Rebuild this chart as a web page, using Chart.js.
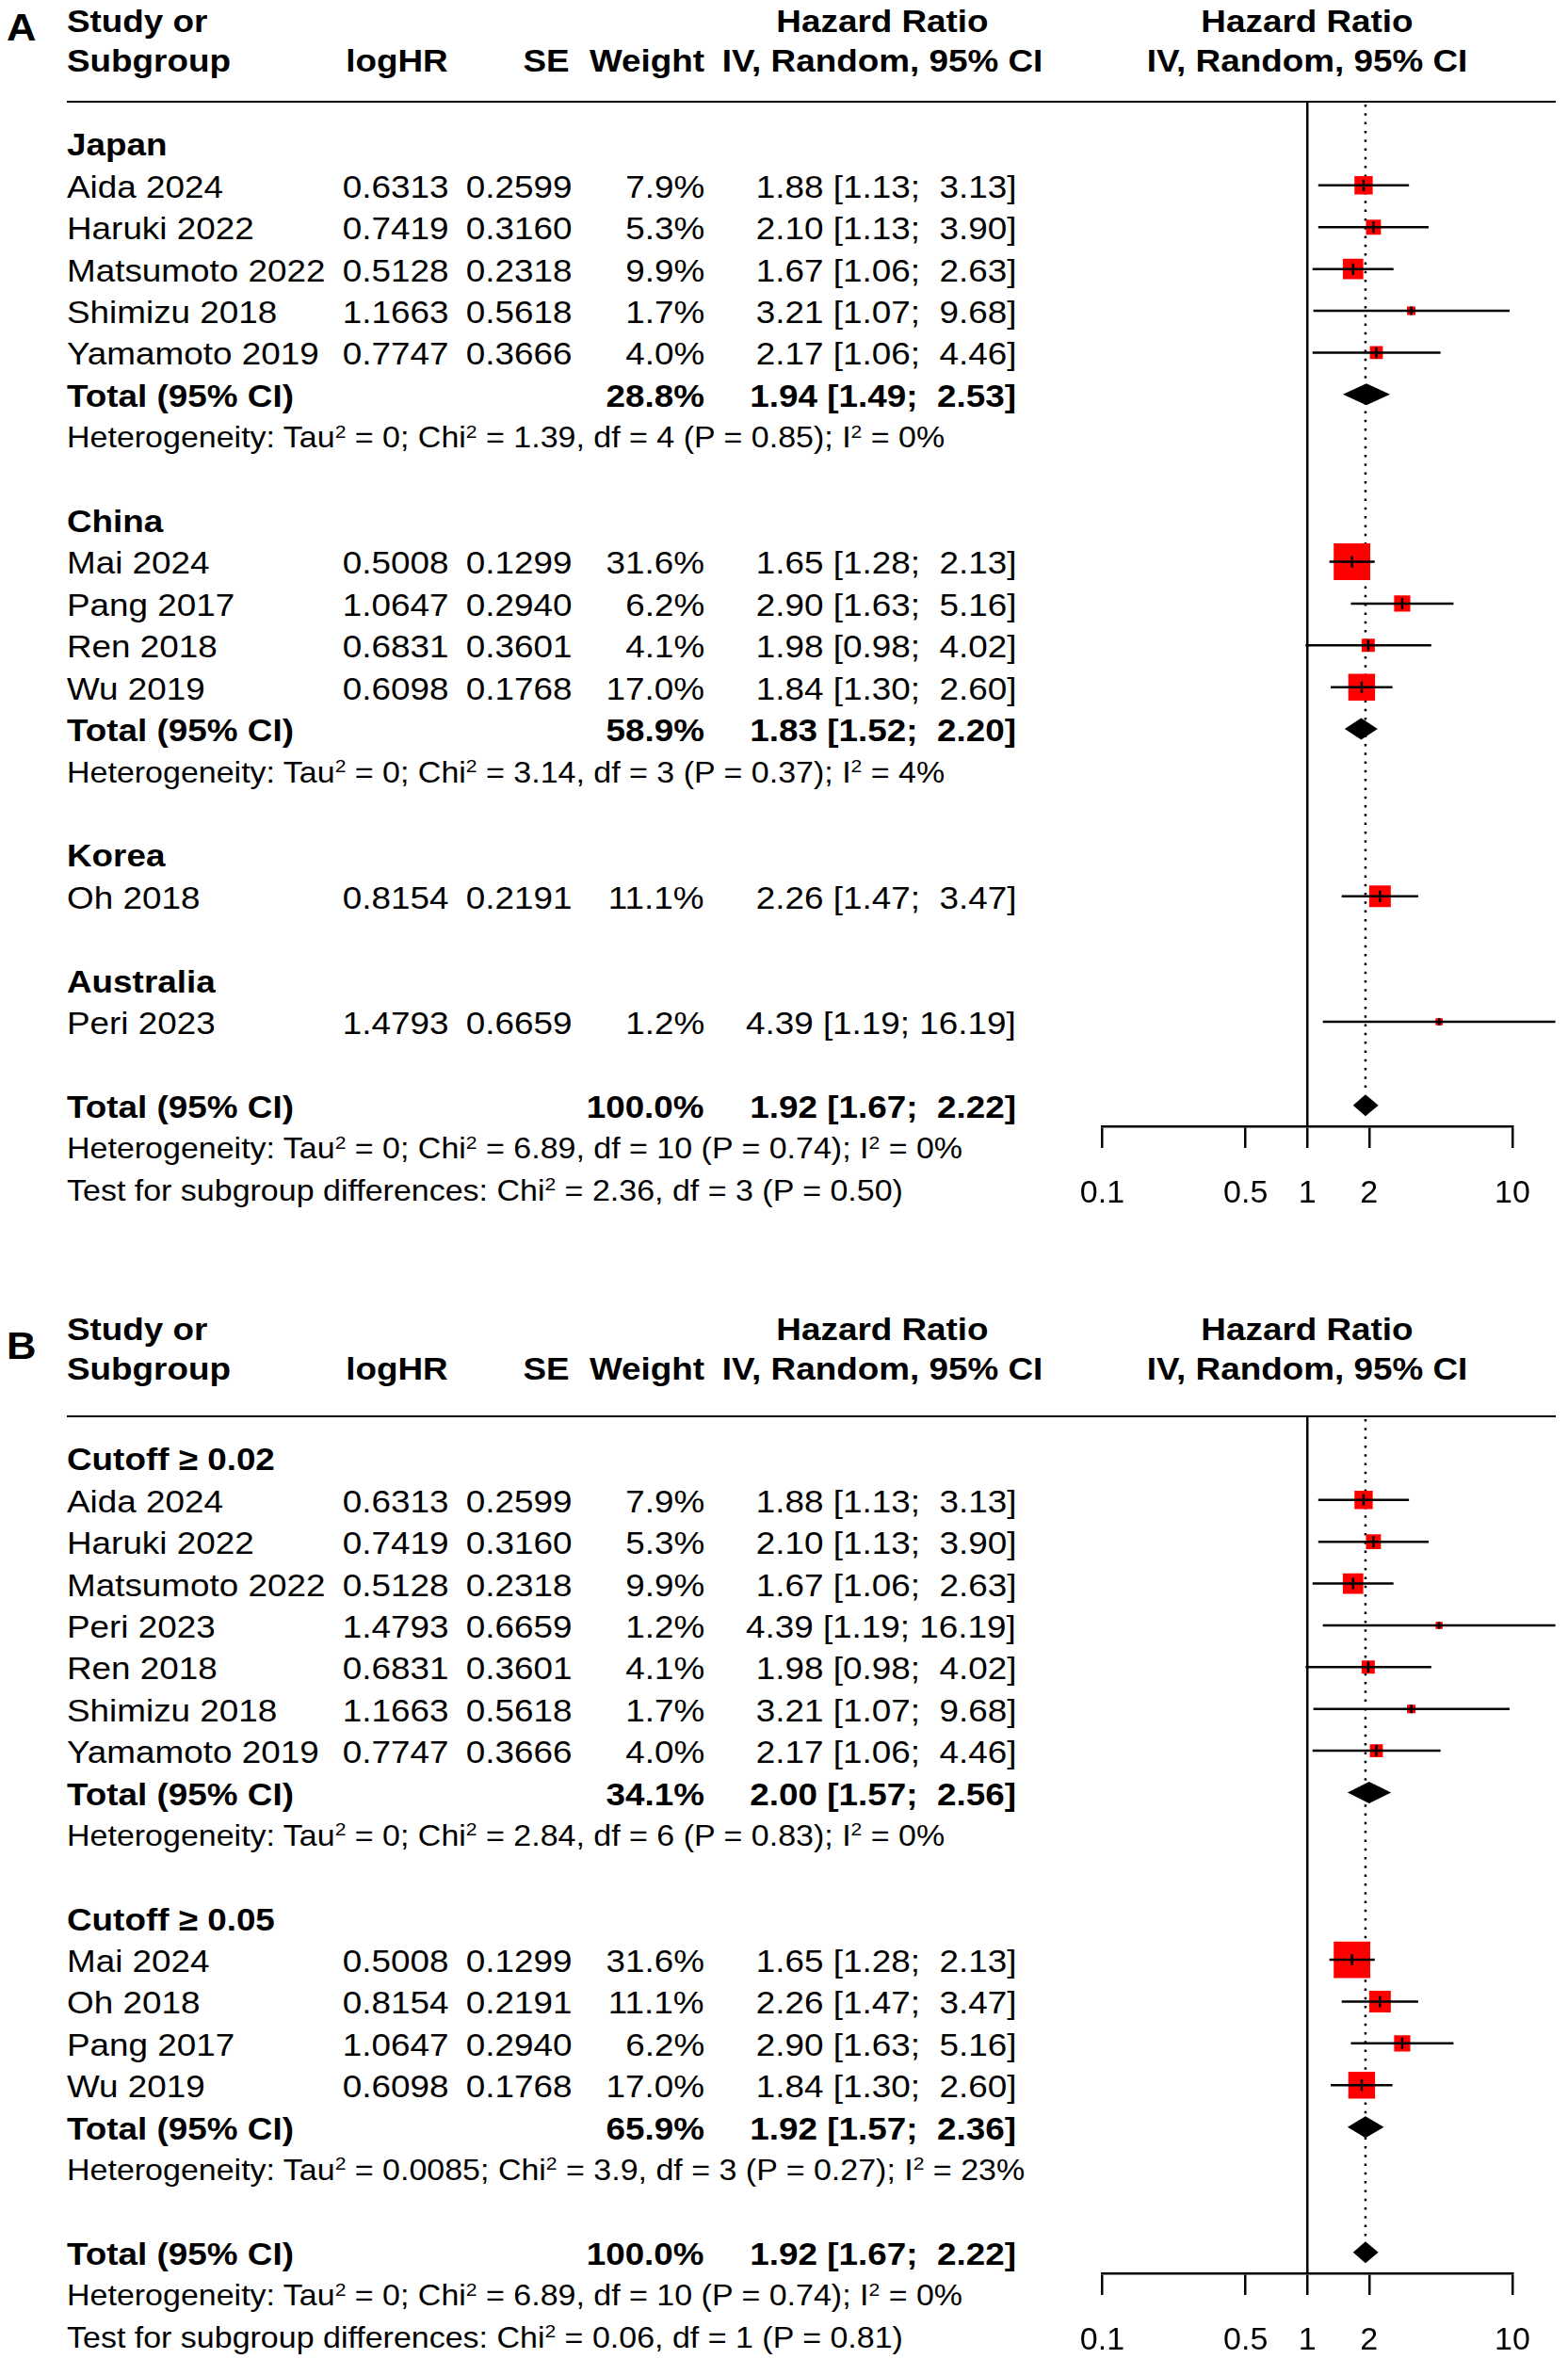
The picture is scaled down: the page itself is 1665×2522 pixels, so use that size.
<!DOCTYPE html>
<html>
<head>
<meta charset="utf-8">
<script src="https://cdn.jsdelivr.net/npm/chart.js@4.4.0/dist/chart.umd.min.js"></script>
<style>
html, body { margin: 0; padding: 0; background: #fff; }
#page { position: relative; width: 1665px; height: 2522px; overflow: hidden;
        font-family: 'Liberation Sans', Arial, Helvetica, sans-serif; color: #000; }
.t { position: absolute; white-space: pre; height: 50px; line-height: 50px; font-size: 33.5px; transform: scaleX(1.10); }
.l { transform-origin: left center; }
.r { transform-origin: right center; text-align: right; }
.c { transform-origin: center center; text-align: center; width: 800px; }
.b { font-weight: bold; }
.h { font-size: 30.9px; }
.t sup { font-size: 0.62em; position: relative; top: -0.55em; vertical-align: baseline; line-height: 0; }
.letter { font-size: 40px; font-weight: bold; transform: scaleX(1.09); transform-origin: left center; }
.rule { position: absolute; left: 71px; width: 1581px; height: 2.4px; background: #000; }
canvas { position: absolute; left: 1100px; }
</style>
</head>
<body>
<div id="page">
  <div class="rule" style="top:107px"></div>
  <div class="rule" style="top:1503px"></div>
  <canvas id="forestA" width="565" height="1188" style="top:108px"></canvas>
  <canvas id="forestB" width="565" height="1010" style="top:1504px"></canvas>
</div>
<script>
// studies, shared by both panels
var studyNames = ['Aida 2024', 'Haruki 2022', 'Matsumoto 2022', 'Shimizu 2018', 'Yamamoto 2019',
                  'Mai 2024', 'Pang 2017', 'Ren 2018', 'Wu 2019', 'Oh 2018', 'Peri 2023'];
var logHR = [0.6313, 0.7419, 0.5128, 1.1663, 0.7747, 0.5008, 1.0647, 0.6831, 0.6098, 0.8154, 1.4793];
var seLogHR = [0.2599, 0.3160, 0.2318, 0.5618, 0.3666, 0.1299, 0.2940, 0.3601, 0.1768, 0.2191, 0.6659];
var weights = [7.9, 5.3, 9.9, 1.7, 4.0, 31.6, 6.2, 4.1, 17.0, 11.1, 1.2];
var hazardRatio = [1.88, 2.10, 1.67, 3.21, 2.17, 1.65, 2.90, 1.98, 1.84, 2.26, 4.39];
var ciLower = [1.13, 1.13, 1.06, 1.07, 1.06, 1.28, 1.63, 0.98, 1.30, 1.47, 1.19];
var ciUpper = [3.13, 3.90, 2.63, 9.68, 4.46, 2.13, 5.16, 4.02, 2.60, 3.47, 16.19];

// panel A: subgroups by country
var groupsA = ['Japan', 'China', 'Korea', 'Australia'];
var membersA = [[0, 1, 2, 3, 4], [5, 6, 7, 8], [9], [10]];
var groupWeightA = [28.8, 58.9, null, null];
var groupHrA = [1.94, 1.83, null, null];
var groupLowerA = [1.49, 1.52, null, null];
var groupUpperA = [2.53, 2.20, null, null];
var groupHetA = ['Tau^2 = 0; Chi^2 = 1.39, df = 4 (P = 0.85); I^2 = 0%',
                 'Tau^2 = 0; Chi^2 = 3.14, df = 3 (P = 0.37); I^2 = 4%', null, null];
var testA = 'Chi^2 = 2.36, df = 3 (P = 0.50)';

// panel B: subgroups by cutoff
var groupsB = ['Cutoff \u2265 0.02', 'Cutoff \u2265 0.05'];
var membersB = [[0, 1, 2, 10, 7, 3, 4], [5, 9, 6, 8]];
var groupWeightB = [34.1, 65.9];
var groupHrB = [2.00, 1.92];
var groupLowerB = [1.57, 1.57];
var groupUpperB = [2.56, 2.36];
var groupHetB = ['Tau^2 = 0; Chi^2 = 2.84, df = 6 (P = 0.83); I^2 = 0%',
                 'Tau^2 = 0.0085; Chi^2 = 3.9, df = 3 (P = 0.27); I^2 = 23%'];
var testB = 'Chi^2 = 0.06, df = 1 (P = 0.81)';

// overall pooled result (same in both panels)
var totalWeight = 100.0;
var totalHr = 1.92;
var totalLower = 1.67;
var totalUpper = 2.22;
var totalHet = 'Tau^2 = 0; Chi^2 = 6.89, df = 10 (P = 0.74); I^2 = 0%';

var xTicks = [0.1, 0.5, 1, 2, 10];

var FONT = "'Liberation Sans', Arial, Helvetica, sans-serif";
var page = document.getElementById('page');

function addText(html, x, y, align, cls) {
    var el = document.createElement('div');
    el.className = (align === 'letter' ? 'letter t l' : 't ' + align) + (cls ? ' ' + cls : '');
    el.innerHTML = html;
    el.style.top = (y - 25) + 'px';
    if (align === 'r') el.style.right = (1665 - x) + 'px';
    else if (align === 'c') el.style.left = (x - 400) + 'px';
    else el.style.left = x + 'px';
    page.appendChild(el);
}

function sup(s) { return s.replace(/\^2/g, '<sup>2</sup>'); }

function fmtCI(hr, lo, hi) {
    var u = hi.toFixed(2);
    if (u.length < 5) u = ' ' + u;
    return hr.toFixed(2) + ' [' + lo.toFixed(2) + '; ' + u + ']';
}

// row layout: group label, studies, subgroup total + heterogeneity, blank line
function buildRows(groups, members, gW, gHr, gLo, gHi, gHet, test) {
    var rows = [], r = 0;
    groups.forEach(function (g, gi) {
        rows.push({ kind: 'group', r: r++, label: g });
        members[gi].forEach(function (si) { rows.push({ kind: 'study', r: r++, s: si }); });
        if (gHr[gi] !== null) {
            rows.push({ kind: 'total', r: r++, w: gW[gi], hr: gHr[gi], lo: gLo[gi], hi: gHi[gi] });
            rows.push({ kind: 'het', r: r++, text: gHet[gi] });
        }
        r++;
    });
    rows.push({ kind: 'total', overall: true, r: r++, w: totalWeight, hr: totalHr, lo: totalLower, hi: totalUpper });
    rows.push({ kind: 'het', r: r++, text: totalHet });
    rows.push({ kind: 'test', r: r++, text: test });
    return rows;
}

// reference lines and diamonds
var forestRefs = {
    id: 'forestRefs',
    beforeDatasetsDraw: function (chart, args, opts) {
        var ctx = chart.ctx, a = chart.chartArea, xs = chart.scales.x, ys = chart.scales.y;
        ctx.save();
        ctx.strokeStyle = '#000';
        ctx.lineWidth = 2.5;
        var x1 = xs.getPixelForValue(1);
        ctx.beginPath(); ctx.moveTo(x1, a.top); ctx.lineTo(x1, a.bottom); ctx.stroke();
        var xo = xs.getPixelForValue(opts.overall.hr);
        ctx.setLineDash([2.5, 6.8]);
        ctx.beginPath(); ctx.moveTo(xo, a.top + 3); ctx.lineTo(xo, ys.getPixelForValue(opts.overall.r) - 12); ctx.stroke();
        ctx.restore();
    },
    afterDatasetsDraw: function (chart, args, opts) {
        var ctx = chart.ctx, xs = chart.scales.x, ys = chart.scales.y;
        ctx.save();
        ctx.fillStyle = '#000';
        opts.diamonds.forEach(function (d) {
            var y = ys.getPixelForValue(d.r);
            ctx.beginPath();
            ctx.moveTo(xs.getPixelForValue(d.lo), y);
            ctx.lineTo(xs.getPixelForValue(d.hr), y - 11.5);
            ctx.lineTo(xs.getPixelForValue(d.hi), y);
            ctx.lineTo(xs.getPixelForValue(d.hr), y + 11.5);
            ctx.closePath();
            ctx.fill();
        });
        ctx.restore();
    }
};

function drawForest(canvasId, rows) {
    var studyRows = rows.filter(function (k) { return k.kind === 'study'; });
    var points = studyRows.map(function (k) { return { x: hazardRatio[k.s], y: k.r }; });
    var sides = studyRows.map(function (k) { return 6.9 * Math.sqrt(weights[k.s]); });
    var ci = [];
    studyRows.forEach(function (k) {
        ci.push({ x: ciLower[k.s], y: k.r }, { x: ciUpper[k.s], y: k.r }, { x: ciUpper[k.s], y: null });
    });
    var diamonds = rows.filter(function (k) { return k.kind === 'total'; });
    var overall = diamonds.filter(function (k) { return k.overall; })[0];

    return new Chart(document.getElementById(canvasId), {
        type: 'scatter',
        data: {
            datasets: [{
                data: points,
                pointStyle: 'rect',
                pointRadius: sides.map(function (s) { return s / Math.SQRT2; }),
                pointHoverRadius: sides.map(function (s) { return s / Math.SQRT2; }),
                pointBackgroundColor: '#ff0000',
                pointBorderWidth: 0,
                order: 3
            }, {
                data: ci,
                showLine: true,
                spanGaps: false,
                pointRadius: 0,
                borderColor: '#000',
                borderWidth: 2.5,
                clip: false,
                order: 2
            }, {
                data: points,
                pointStyle: 'line',
                pointRotation: 90,
                pointRadius: sides.map(function (s) { return Math.min(6, s / 2); }),
                pointBorderColor: '#000',
                pointBorderWidth: 2.5,
                order: 1
            }]
        },
        options: {
            responsive: false,
            animation: false,
            events: [],
            layout: { autoPadding: false, padding: { left: 70.5, right: 59, top: 0, bottom: 0 } },
            plugins: {
                legend: { display: false },
                tooltip: { enabled: false },
                forestRefs: { diamonds: diamonds, overall: overall }
            },
            scales: {
                x: {
                    type: 'logarithmic',
                    position: 'bottom',
                    min: 0.1,
                    max: 10,
                    afterBuildTicks: function (axis) {
                        axis.ticks = xTicks.map(function (v) { return { value: v }; });
                    },
                    afterFit: function (axis) { axis.height = 100; },
                    grid: { display: true, drawOnChartArea: false, drawTicks: true, tickLength: 23, color: '#000', lineWidth: 2.5 },
                    border: { display: true, color: '#000', width: 2.5 },
                    ticks: {
                        autoSkip: false, maxRotation: 0, color: '#000', padding: 28,
                        font: { family: FONT, size: 34 },
                        callback: function (v) { return String(v); }
                    }
                },
                y: { type: 'linear', display: false, reverse: true, min: -1, max: overall.r + 0.5 }
            }
        },
        plugins: [forestRefs]
    });
}

function writeTable(chart, rows, canvasTop, headTop, letter, letterY) {
    var ys = chart.scales.y;
    var xOne = chart.scales.x.getPixelForValue(1) + 1100;

    addText(letter, 7, letterY, 'letter');
    addText('Study or', 71, headTop, 'l', 'b');
    addText('Subgroup', 71, headTop + 42, 'l', 'b');
    addText('logHR', 476, headTop + 42, 'r', 'b');
    addText('SE', 605, headTop + 42, 'r', 'b');
    addText('Weight', 748, headTop + 42, 'r', 'b');
    addText('Hazard Ratio', 937, headTop, 'c', 'b');
    addText('IV, Random, 95% CI', 937, headTop + 42, 'c', 'b');
    addText('Hazard Ratio', xOne, headTop, 'c', 'b');
    addText('IV, Random, 95% CI', xOne, headTop + 42, 'c', 'b');

    rows.forEach(function (k) {
        var y = ys.getPixelForValue(k.r) + canvasTop + 2;
        if (k.kind === 'group') {
            addText(k.label, 71, y, 'l', 'b');
        } else if (k.kind === 'study') {
            addText(studyNames[k.s], 71, y, 'l');
            addText(logHR[k.s].toFixed(4), 476.5, y, 'r');
            addText(seLogHR[k.s].toFixed(4), 607, y, 'r');
            addText(weights[k.s].toFixed(1) + '%', 748, y, 'r');
            addText(fmtCI(hazardRatio[k.s], ciLower[k.s], ciUpper[k.s]), 1079, y, 'r');
        } else if (k.kind === 'total') {
            addText('Total (95% CI)', 71, y, 'l', 'b');
            addText(k.w.toFixed(1) + '%', 748, y, 'r', 'b');
            addText(fmtCI(k.hr, k.lo, k.hi), 1079, y, 'r', 'b');
        } else if (k.kind === 'het') {
            addText(sup('Heterogeneity: ' + k.text), 71, y, 'l', 'h');
        } else {
            addText(sup('Test for subgroup differences: ' + k.text), 71, y, 'l', 'h');
        }
    });
}

var rowsA = buildRows(groupsA, membersA, groupWeightA, groupHrA, groupLowerA, groupUpperA, groupHetA, testA);
var rowsB = buildRows(groupsB, membersB, groupWeightB, groupHrB, groupLowerB, groupUpperB, groupHetB, testB);

var chartA = drawForest('forestA', rowsA);
var chartB = drawForest('forestB', rowsB);

writeTable(chartA, rowsA, 108, 23.3, 'A', 29.2);
writeTable(chartB, rowsB, 1504, 1412, 'B', 1428.7);
</script>
</body>
</html>
